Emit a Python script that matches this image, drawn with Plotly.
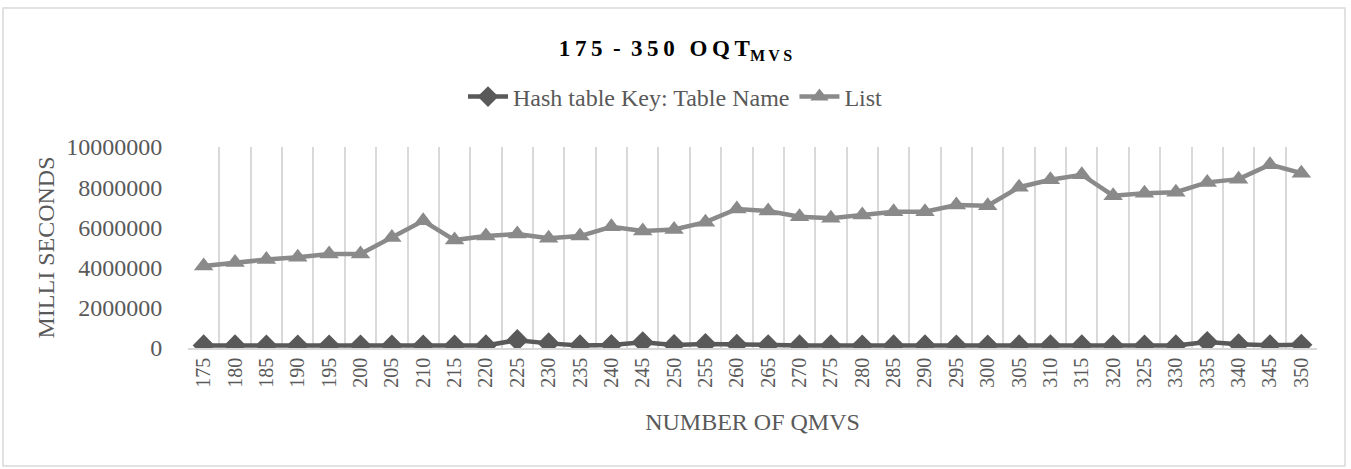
import plotly.graph_objects as go

categories = [175, 180, 185, 190, 195, 200, 205, 210, 215, 220, 225, 230,
              235, 240, 245, 250, 255, 260, 265, 270, 275, 280, 285, 290,
              295, 300, 305, 310, 315, 320, 325, 330, 335, 340, 345, 350]

hash_table = [130000, 130000, 125000, 120000, 125000, 125000, 120000, 125000,
              125000, 130000, 390000, 230000, 130000, 150000, 280000, 150000,
              200000, 160000, 140000, 130000, 130000, 125000, 130000, 130000,
              125000, 125000, 130000, 140000, 130000, 125000, 125000, 130000,
              300000, 190000, 140000, 160000]

list_values = [4080000, 4250000, 4400000, 4520000, 4680000, 4680000, 5500000, 6330000,
               5370000, 5570000, 5670000, 5460000, 5570000, 6030000, 5820000, 5900000,
               6260000, 6920000, 6820000, 6530000, 6450000, 6620000, 6780000, 6780000,
               7110000, 7080000, 8000000, 8370000, 8620000, 7580000, 7700000, 7750000,
               8240000, 8400000, 9120000, 8700000]

series_names = ["Hash table Key: Table Name", "List"]
TS = "\u2009"  # thin space used as letter spacing
title_text = (f"1{TS}7{TS}5 {TS}-{TS} 3{TS}5{TS}0{TS} {TS}O{TS}Q{TS}T"
              f"<sub>M{TS}V{TS}S</sub>")
x_title = "NUMBER OF QMVS"
y_title = "MILLI SECONDS"

FONT = "Liberation Serif, Times New Roman, serif"
TXT = "#595959"
GRID = "#d9d9d9"

x = [str(c) for c in categories]

fig = go.Figure()
fig.add_trace(go.Scatter(
    x=x, y=hash_table, name=series_names[0], mode="lines+markers",
    line=dict(color="#595959", width=4.5),
    marker=dict(symbol="diamond", size=17, color="#595959"),
))
fig.add_trace(go.Scatter(
    x=x, y=list_values, name=series_names[1], mode="lines+markers",
    line=dict(color="#8a8a8a", width=4.5),
    marker=dict(symbol="triangle-up", size=17, color="#8a8a8a"),
))

# outer chart border (in paper coordinates relative to plot area)
L, R, T, B = 188, 1317, 147, 348
W, H = R - L, B - T
def px(xp):
    return (xp - L) / W
def py(yp):
    return (B - yp) / H

fig.add_shape(type="rect", xref="paper", yref="paper",
              x0=px(3), x1=px(1345), y0=py(466), y1=py(8),
              line=dict(color=GRID, width=1.5), fillcolor="rgba(0,0,0,0)", layer="below")

fig.update_layout(
    width=1351, height=469,
    margin=dict(l=L, r=1351 - R, t=T, b=469 - B, autoexpand=False),
    paper_bgcolor="white", plot_bgcolor="white",
    font=dict(family=FONT, color=TXT, size=23),
    title=dict(text=title_text, x=0.5, xref="container", xanchor="center",
               y=1 - 48 / 469, yref="container", yanchor="middle",
               font=dict(family=FONT, size=23, color="#000000", weight="bold")),
    legend=dict(orientation="h", xref="container", x=0.5, xanchor="center",
                yref="container", y=1 - 97 / 469, yanchor="middle",
                font=dict(family=FONT, size=24, color=TXT),
                itemwidth=40, tracegroupgap=0),
    showlegend=True,
)

fig.update_xaxes(
    type="category", tickson="boundaries", range=[-0.5, len(categories) - 0.5],
    showgrid=True, gridcolor=GRID, gridwidth=1.5,
    showline=True, linecolor=GRID, linewidth=1.5, automargin=False,
    ticks="outside", ticklen=25, tickcolor="rgba(0,0,0,0)",
    tickangle=-90, tickfont=dict(family=FONT, size=20, color=TXT),
    title=dict(text=x_title, font=dict(family=FONT, size=24, color=TXT), standoff=26),
    zeroline=False,
)
fig.update_yaxes(
    range=[0, 10000000], dtick=2000000, tick0=0, tickformat="d",
    showgrid=False, zeroline=False, showline=False, automargin=False,
    ticks="outside", ticklen=20, tickcolor="rgba(0,0,0,0)",
    tickfont=dict(family=FONT, size=24, color=TXT),
    title=dict(text=y_title, font=dict(family=FONT, size=24, color=TXT), standoff=4),
)

fig.write_html("out.html", config={"displayModeBar": False},
               post_script="document.body.style.margin='0';document.body.style.padding='0';")
